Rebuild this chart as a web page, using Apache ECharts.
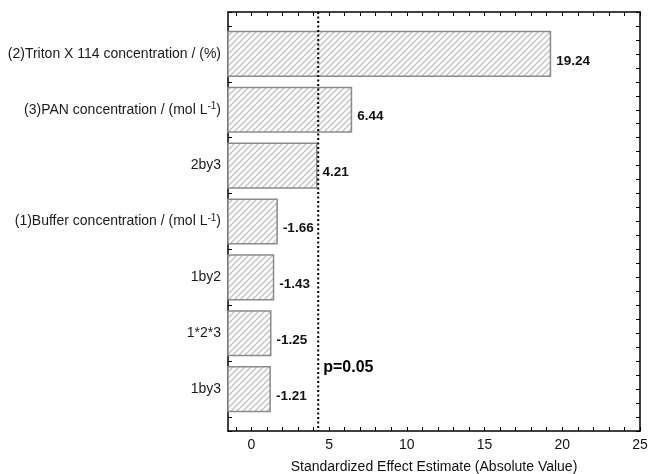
<!DOCTYPE html>
<html>
<head>
<meta charset="utf-8">
<script src="https://cdn.jsdelivr.net/npm/echarts@6/dist/echarts.min.js"></script>
<style>
  html, body { margin: 0; padding: 0; background: #fff; }
  #main_chart { width: 648px; height: 474px; }
</style>
</head>
<body>
<div id="main_chart"></div>
<script>
// factors, top to bottom
var factors = [
    '(2)Triton X 114 concentration / (%)',
    '(3)PAN concentration / (mol L{sup|-1})',
    '2by3',
    '(1)Buffer concentration / (mol L{sup|-1})',
    '1by2',
    '1*2*3',
    '1by3'
];
// standardized effects (sign kept for the labels)
var effects = [19.24, 6.44, 4.21, -1.66, -1.43, -1.25, -1.21];
var pCritical = 4.303;
var pLabel = 'p=0.05';
var pLabelRow = 6.62;
var xTickLabels = [0, 5, 10, 15, 20, 25];
var xMin = -1.5, xMax = 25;
var xAxisName = 'Standardized Effect Estimate (Absolute Value)';

var font = 'Liberation Sans, Arial, sans-serif';

// minor ticks
var xTicks = [];
for (var i = -1; i <= 25; i++) xTicks.push(i);
var yTicks = [];
for (var j = 0.25; j <= 7.75; j += 0.25) yTicks.push(j);
var yLabelPos = factors.map(function (f, k) { return k + 1; });

// hatch pattern for the bars
var hatch = document.createElement('canvas');
hatch.width = 6; hatch.height = 6;
var ctx = hatch.getContext('2d');
ctx.fillStyle = '#fff';
ctx.fillRect(0, 0, 6, 6);
ctx.strokeStyle = '#c2c2c2';
ctx.lineWidth = 1.4;
ctx.beginPath();
ctx.moveTo(-1, 7); ctx.lineTo(7, -1);
ctx.moveTo(-1, 1); ctx.lineTo(1, -1);
ctx.moveTo(5, 7); ctx.lineTo(7, 5);
ctx.stroke();

var barData = effects.map(function (v, k) { return [Math.abs(v), k + 1, v]; });

var myChart = echarts.init(document.getElementById('main_chart'));

var frameLine = { show: true, onZero: false, lineStyle: { color: '#000', width: 1.5 } };

var option = {
    animation: false,
    grid: { left: 228, right: 8, top: 12, bottom: 43, outerBoundsMode: 'none' },
    xAxis: [{
        type: 'value',
        min: xMin,
        max: xMax,
        position: 'bottom',
        axisLine: frameLine,
        axisTick: { show: true, inside: true, length: 4, customValues: xTicks, lineStyle: { color: '#000' } },
        axisLabel: { customValues: xTickLabels, color: '#111', fontSize: 14, fontFamily: font, margin: 7 },
        splitLine: { show: false },
        name: xAxisName,
        nameLocation: 'middle',
        nameGap: 29,
        nameTextStyle: { color: '#111', fontSize: 14, fontFamily: font }
    }, {
        type: 'value',
        min: xMin,
        max: xMax,
        position: 'top',
        axisLine: frameLine,
        axisTick: { show: true, inside: true, length: 4, customValues: xTicks, lineStyle: { color: '#000' } },
        axisLabel: { show: false },
        splitLine: { show: false }
    }],
    yAxis: [{
        type: 'value',
        inverse: true,
        min: 0.25,
        max: 7.75,
        position: 'left',
        axisLine: frameLine,
        axisTick: { show: true, inside: true, length: 4, customValues: yTicks, lineStyle: { color: '#000' } },
        axisLabel: {
            customValues: yLabelPos,
            formatter: function (v) { return factors[Math.round(v) - 1]; },
            color: '#1a1a1a',
            fontSize: 14,
            fontFamily: font,
            margin: 7,
            lineHeight: 17,
            rich: { sup: { fontSize: 10, fontFamily: font, color: '#1a1a1a', verticalAlign: 'top', lineHeight: 17 } }
        },
        splitLine: { show: false }
    }, {
        type: 'value',
        inverse: true,
        min: 0.25,
        max: 7.75,
        position: 'right',
        axisLine: frameLine,
        axisTick: { show: true, inside: true, length: 4, customValues: yTicks, lineStyle: { color: '#000' } },
        axisLabel: { show: false },
        splitLine: { show: false }
    }],
    series: [{
        type: 'custom',
        xAxisIndex: 0,
        yAxisIndex: 0,
        data: barData,
        renderItem: function (params, api) {
            var start = api.coord([xMin, api.value(1)]);
            var end = api.coord([api.value(0), api.value(1)]);
            var h = api.size([0, 0.8])[1];
            return {
                type: 'rect',
                shape: { x: start[0], y: start[1] - h / 2, width: end[0] - start[0], height: h },
                style: { fill: { image: hatch, repeat: 'repeat' }, stroke: '#8a8a8a', lineWidth: 1.5 },
                textContent: {
                    style: {
                        text: api.value(2).toFixed(2),
                        fill: '#111',
                        fontSize: 13.5,
                        fontWeight: 'bold',
                        fontFamily: font
                    }
                },
                textConfig: { position: 'right', distance: 5, offset: [0, 7] }
            };
        },
        z: 2
    }, {
        type: 'line',
        data: [[pCritical, 0.25], [pCritical, 7.75]],
        symbol: 'none',
        lineStyle: { color: '#000', width: 2, type: [2, 2.5] },
        z: 3
    }, {
        type: 'custom',
        data: [[pCritical, pLabelRow]],
        renderItem: function (params, api) {
            var p = api.coord([api.value(0), api.value(1)]);
            return {
                type: 'text',
                x: p[0] + 5,
                y: p[1],
                style: {
                    text: pLabel,
                    fill: '#000',
                    fontSize: 16,
                    fontWeight: 'bold',
                    fontFamily: font,
                    verticalAlign: 'middle',
                    align: 'left'
                }
            };
        },
        z: 4
    }]
};
myChart.setOption(option);
</script>
</body>
</html>
